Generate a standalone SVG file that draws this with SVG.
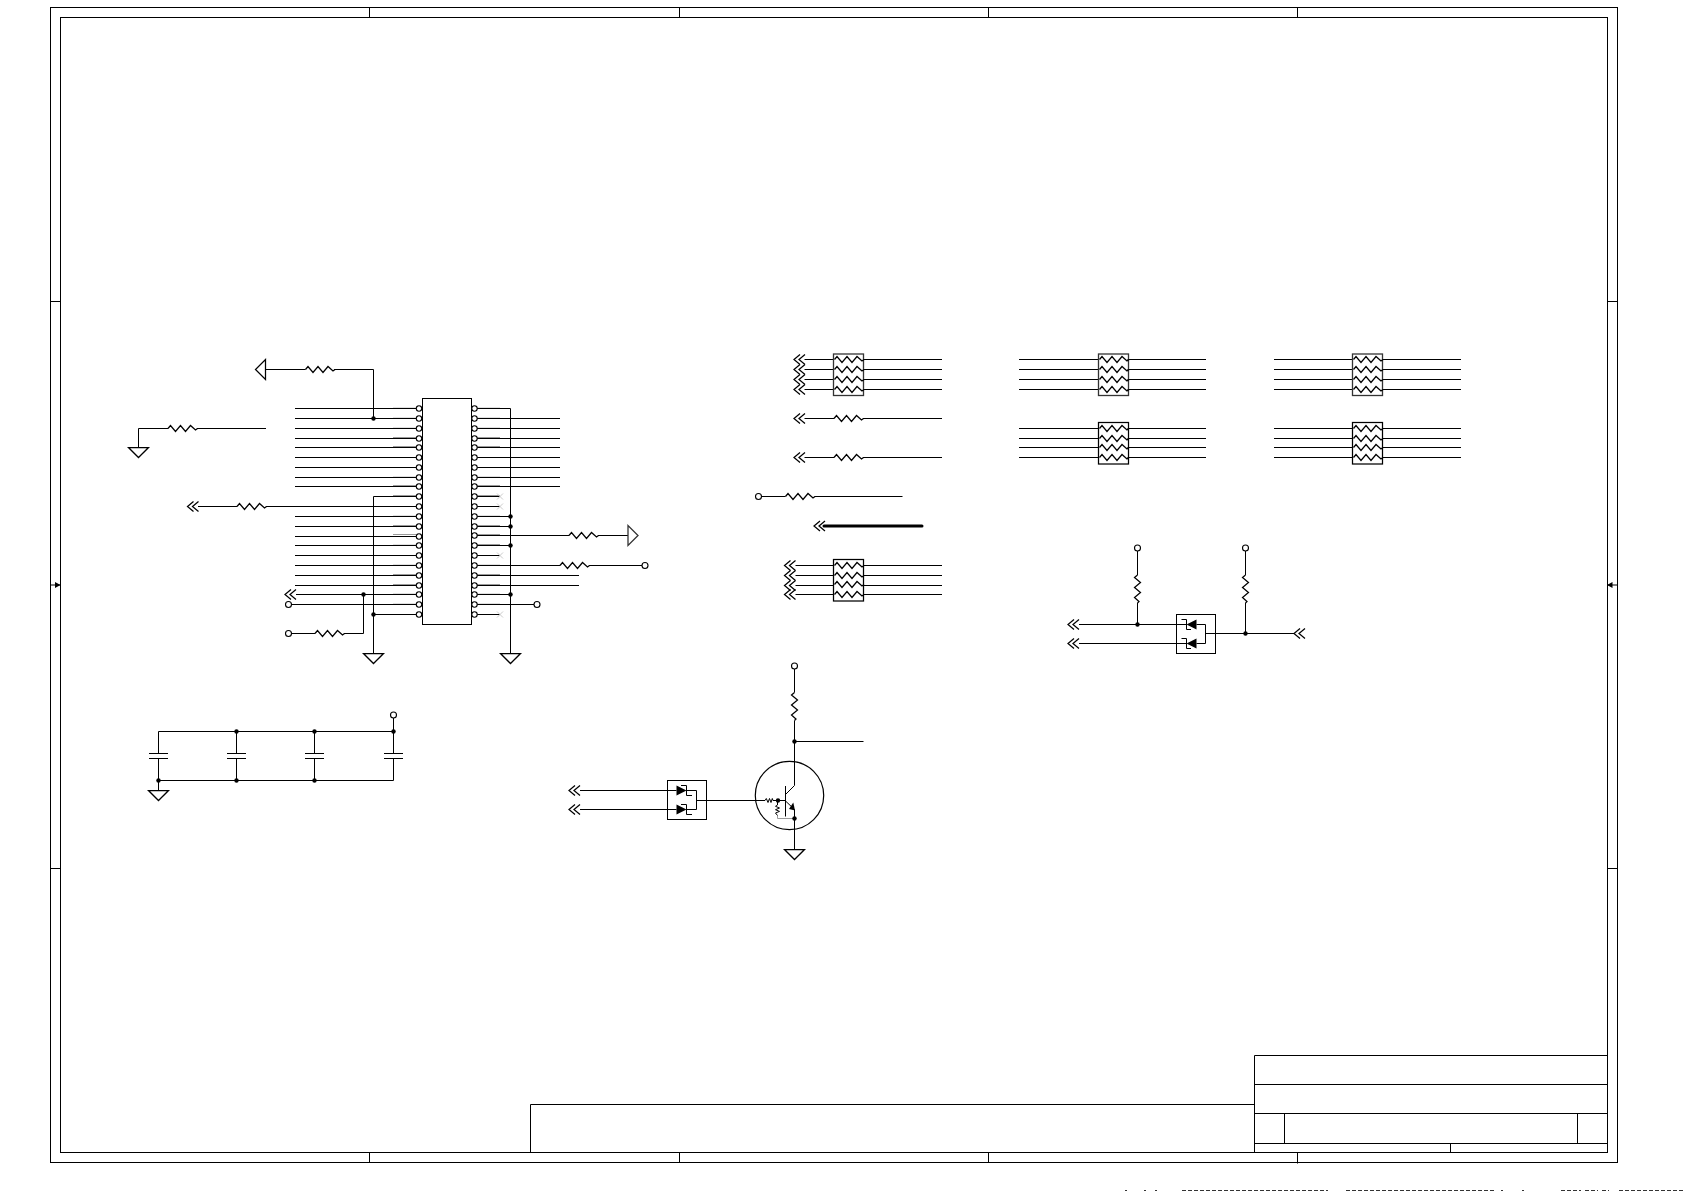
<svg xmlns="http://www.w3.org/2000/svg" width="1685" height="1191" viewBox="0 0 1685 1191">
<style>
.w{fill:none;stroke:#000;stroke-width:1}
.z{fill:none;stroke:#000;stroke-width:1.25}
.t{fill:none;stroke:#000;stroke-width:3;stroke-linecap:round}
.b{fill:#fff;stroke:#000;stroke-width:1}
.g{fill:none;stroke:#333;stroke-width:1.3}
.sd{fill:none;stroke:#9a9a9a;stroke-width:1}
.sl{fill:none;stroke:#e0e0e0;stroke-width:1}
.x{fill:none;stroke:#ccc;stroke-width:1}
.d{fill:#000;stroke:none}
.o{fill:#fff;stroke:#000;stroke-width:1.1}
</style>
<defs>
<path id="res" class="z" d="M0 0L2.5 -3L7.5 3L12.5 -3L17.5 3L22.5 -3L27.5 1.5L29.5 0"/>
<path id="vres" class="z" d="M0 0L-3 2.5L3 7.5L-3 12.5L3 17.5L-3 22.5L1.5 26.5L0 28"/>
<path id="chev" class="z" d="M6 -5L0 0L6 5M11 -5L5 0L11 5"/>
<path id="gnd" class="z" d="M-10 0H10L0 10Z"/>
<circle id="dot" class="d" r="2.2"/>
<circle id="term" class="o" r="3"/>
<circle id="pin" class="o" r="2.7"/>
<path id="xm" class="x" d="M-3 -3L3 3M-3 3L3 -3"/>
<g id="rn4a">
<rect class="g" x="0" y="0" width="30" height="41.5"/>
<use href="#res" x="1" y="5.5"/><use href="#res" x="1" y="15.5"/><use href="#res" x="1" y="25.5"/><use href="#res" x="1" y="35.5"/>
</g>
<g id="rn4b">
<rect class="z" x="0" y="0" width="30" height="41.5"/>
<use href="#res" x="1" y="6"/><use href="#res" x="1" y="16"/><use href="#res" x="1" y="25"/><use href="#res" x="1" y="35"/>
</g>
</defs>
<rect width="1685" height="1191" fill="#fff"/>

<g id="frame">
<rect class="w" x="50.5" y="7.5" width="1567" height="1155"/>
<rect class="w" x="60.5" y="17.5" width="1547" height="1135"/>
<path class="w" d="M369.5 7.5V17.5M679.5 7.5V17.5M988.5 7.5V17.5M1297.5 7.5V17.5M369.5 1152.5V1162.5M679.5 1152.5V1162.5M988.5 1152.5V1162.5M1297.5 1152.5V1163.5"/>
<path class="w" d="M50.5 301.5H60.5M50.5 868.5H60.5M1607.5 301.5H1617.5M1607.5 868.5H1617.5"/>
<path class="w" d="M51 585H60M1607 585H1617"/>
<path class="d" d="M55 582L60.5 585L55 588ZM1612.5 582L1607 585L1612.5 588Z"/>
</g>
<g id="title-block">
<path class="w" d="M1254.5 1152.5V1055.5H1607.5M1254.5 1084.5H1607.5M1254.5 1113.5H1607.5M1254.5 1143.5H1607.5M1284.5 1113.5V1143.5M1577.5 1113.5V1143.5M1450.5 1143.5V1152.5M530.5 1152.5V1104.5H1254.5"/>
</g>
<path id="page-edge" d="M1125 1190.5h2M1144 1190.5h2M1155 1190.5h2M1182 1190.5H1264M1266 1190.5H1328M1346 1190.5H1495M1501 1190.5h2M1522 1190.5h2M1561 1190.5H1581M1585 1190.5H1598M1602 1190.5H1609M1619 1190.5H1685" fill="none" stroke="#333" stroke-width="1" stroke-dasharray="4 2"/>

<g id="connectors">
<path class="w" d="M295 408.5H416M295 418.5H416M295 428.5H416M295 438.5H416M295 447.5H416M295 457.5H416M295 467.5H416M295 477.5H416M295 486.5H416M373.5 496.5H416M266 506.5H416M295 516.5H416M295 526.5H416M295 536.5H416M295 545.5H416M295 555.5H416M295 565.5H416M295 575.5H416M295 585.5H416M296 594.5H416M291 604.5H416M373.5 614.5H416"/>
<path class="w" d="M334 369.5H373.5V418.5M265.5 369.5H305.5"/>
<path class="w" d="M138.5 447.5V428.5H168M197 428.5H266"/>
<path class="w" d="M198 506.5H237"/>
<path class="w" d="M373.5 496.5V653.5"/>
<path class="w" d="M363.5 594.5V633.5H344M315 633.5H291.5"/>
<path class="w" d="M477 408.5H510.5V653.5"/>
<path class="w" d="M477 418.5H560M477 428.5H560M477 438.5H560M477 447.5H560M477 457.5H560M477 467.5H560M477 477.5H560M477 486.5H560"/>
<path class="w" d="M477 496.5H500M477 506.5H500M477 555.5H500M477 614.5H500"/>
<path class="w" d="M477 516.5H510.5M477 526.5H510.5M477 545.5H510.5M477 594.5H510.5"/>
<path class="w" d="M477 535.5H569M598 535.5H628"/>
<path class="w" d="M477 565.5H560M589 565.5H642"/>
<path class="w" d="M477 575.5H579M477 585.5H579"/>
<path class="w" d="M477 604.5H534"/>
<path class="sl" d="M393 407.5H416M393 417.5H416M393 427.5H416M393 476.5H416M393 515.5H416M393 544.5H416M393 564.5H416M393 593.5H416M393 603.5H416M477 407.5H500M477 417.5H500M477 427.5H500M477 476.5H500M477 515.5H500M477 564.5H500M477 593.5H500M477 603.5H500"/>
<path class="sd" d="M393 437.5H416M393 446.5H416M393 485.5H416M393 495.5H416M393 525.5H416M393 534.5H416M393 574.5H416M393 584.5H416M477 437.5H500M477 446.5H500M477 485.5H500M477 495.5H500M477 525.5H500M477 534.5H500M477 544.5H500M477 574.5H500M477 584.5H500"/>
<path class="w" d="M158.5 753.5V731.5H393.5V753.5M158.5 758.5V790.5M236.5 731.5V753.5M236.5 758.5V780.5M314.5 731.5V753.5M314.5 758.5V780.5M393.5 758.5V780.5H158.5M393.5 718V731.5"/>
<path class="w" d="M804.5 359.5H833.5M804.5 369.5H833.5M804.5 379.5H833.5M804.5 389.5H833.5M863.5 359.5H942M863.5 369.5H942M863.5 379.5H942M863.5 389.5H942"/>
<path class="w" d="M804.5 418.5H834M863 418.5H942M804.5 457.5H834M863 457.5H942"/>
<path class="w" d="M761 496.5H785.5M814.5 496.5H902.5"/>
<path class="t" d="M824 526H922"/>
<path class="w" d="M795.5 565.5H833.5M795.5 575.5H833.5M795.5 585.5H833.5M795.5 594.5H833.5M863.5 565.5H942M863.5 575.5H942M863.5 585.5H942M863.5 594.5H942"/>
<path class="w" d="M1019 359.5H1098.5M1019 369.5H1098.5M1019 379.5H1098.5M1019 389.5H1098.5M1127.5 359.5H1206M1127.5 369.5H1206M1127.5 379.5H1206M1127.5 389.5H1206"/>
<path class="w" d="M1019 428.5H1098.5M1019 438.5H1098.5M1019 447.5H1098.5M1019 457.5H1098.5M1127.5 428.5H1206M1127.5 438.5H1206M1127.5 447.5H1206M1127.5 457.5H1206"/>
<path class="w" d="M1274 359.5H1352.5M1274 369.5H1352.5M1274 379.5H1352.5M1274 389.5H1352.5M1382 359.5H1461M1382 369.5H1461M1382 379.5H1461M1382 389.5H1461"/>
<path class="w" d="M1274 428.5H1352.5M1274 438.5H1352.5M1274 447.5H1352.5M1274 457.5H1352.5M1382 428.5H1461M1382 438.5H1461M1382 447.5H1461M1382 457.5H1461"/>
<path class="w" d="M1137.5 551V575M1137.5 603V624.5M1245.5 551V575M1245.5 603V633.5"/>
<path class="w" d="M1079 624.5H1186.5M1079 643.5H1186.5"/>
<path class="w" d="M1196.5 624.5H1205.5V643.5H1196.5M1205.5 633.5H1294"/>
<path class="w" d="M580 790.5H676.5M580 809.5H676.5"/>
<path class="w" d="M686.5 790.5H696.5V809.5H686.5M696.5 800.5H765M773 800.5H785"/>
<path class="w" d="M794.5 669V692.5M794.5 720.5V785.5L785 795M794.5 741.5H863.5"/>
<path class="w" d="M785 800.5L794.5 809.5V849.5"/>
<path class="sd" d="M794.5 818.5H777.5V815.5"/>
<path class="w" d="M777.5 800.5V805"/>
</g>

<g id="U1">
<rect class="b" x="422.5" y="398.5" width="49" height="226"/>
<use href="#pin" x="419" y="408.5"/><use href="#pin" x="419" y="418.5"/><use href="#pin" x="419" y="428.5"/><use href="#pin" x="419" y="438.5"/><use href="#pin" x="419" y="447.5"/><use href="#pin" x="419" y="457.5"/><use href="#pin" x="419" y="467.5"/><use href="#pin" x="419" y="477.5"/><use href="#pin" x="419" y="486.5"/><use href="#pin" x="419" y="496.5"/><use href="#pin" x="419" y="506.5"/><use href="#pin" x="419" y="516.5"/><use href="#pin" x="419" y="526.5"/><use href="#pin" x="419" y="536.5"/><use href="#pin" x="419" y="545.5"/><use href="#pin" x="419" y="555.5"/><use href="#pin" x="419" y="565.5"/><use href="#pin" x="419" y="575.5"/><use href="#pin" x="419" y="585.5"/><use href="#pin" x="419" y="594.5"/><use href="#pin" x="419" y="604.5"/><use href="#pin" x="419" y="614.5"/>
<use href="#pin" x="474.5" y="408.5"/><use href="#pin" x="474.5" y="418.5"/><use href="#pin" x="474.5" y="428.5"/><use href="#pin" x="474.5" y="438.5"/><use href="#pin" x="474.5" y="447.5"/><use href="#pin" x="474.5" y="457.5"/><use href="#pin" x="474.5" y="467.5"/><use href="#pin" x="474.5" y="477.5"/><use href="#pin" x="474.5" y="486.5"/><use href="#pin" x="474.5" y="496.5"/><use href="#pin" x="474.5" y="506.5"/><use href="#pin" x="474.5" y="516.5"/><use href="#pin" x="474.5" y="526.5"/><use href="#pin" x="474.5" y="535.5"/><use href="#pin" x="474.5" y="545.5"/><use href="#pin" x="474.5" y="555.5"/><use href="#pin" x="474.5" y="565.5"/><use href="#pin" x="474.5" y="575.5"/><use href="#pin" x="474.5" y="585.5"/><use href="#pin" x="474.5" y="594.5"/><use href="#pin" x="474.5" y="604.5"/><use href="#pin" x="474.5" y="614.5"/>
<use href="#xm" x="500" y="496.5"/><use href="#xm" x="500" y="506.5"/><use href="#xm" x="500" y="555.5"/><use href="#xm" x="500" y="614.5"/>
</g>

<g id="junctions-chip">
<use href="#dot" x="373.5" y="418.5"/><use href="#dot" x="363.5" y="594.5"/><use href="#dot" x="373.5" y="614.5"/>
<use href="#dot" x="510.5" y="516.5"/><use href="#dot" x="510.5" y="526.5"/><use href="#dot" x="510.5" y="545.5"/><use href="#dot" x="510.5" y="594.5"/>
</g>
<g id="R1"><use href="#res" x="305.5" y="369.5"/></g>
<g id="PWR1"><path class="z" d="M265.5 359.5V379.5L255.5 369.5Z"/></g>
<g id="R2"><use href="#res" x="168" y="428.5"/></g>
<g id="GND1"><use href="#gnd" x="138.5" y="447.5"/></g>
<g id="R3"><use href="#res" x="237" y="506.5"/></g>
<g id="OFF1"><use href="#chev" x="187.5" y="506.5"/></g>
<g id="OFF2"><use href="#chev" x="285" y="594.5"/></g>
<g id="T1"><use href="#term" x="288.5" y="604.5"/></g>
<g id="T2"><use href="#term" x="288.5" y="633.5"/></g>
<g id="R4"><use href="#res" x="315" y="633.5"/></g>
<g id="GND2"><use href="#gnd" x="373.5" y="653.5"/></g>
<g id="GND3"><use href="#gnd" x="510.5" y="653.5"/></g>
<g id="R5"><use href="#res" x="569" y="535.5"/></g>
<g id="PWR2"><path class="g" d="M628 525.5V545.5L638 535.5Z"/></g>
<g id="R6"><use href="#res" x="560" y="565.5"/></g>
<g id="T3"><use href="#term" x="645" y="565.5"/></g>
<g id="T4"><use href="#term" x="537" y="604.5"/></g>

<g id="caps">
<path class="w" d="M149 753.5H168M149 758.5H168M227 753.5H246M227 758.5H246M305 753.5H324M305 758.5H324M384 753.5H403M384 758.5H403"/>
<use href="#dot" x="236.5" y="731.5"/><use href="#dot" x="314.5" y="731.5"/><use href="#dot" x="393.5" y="731.5"/>
<use href="#dot" x="158.5" y="780.5"/><use href="#dot" x="236.5" y="780.5"/><use href="#dot" x="314.5" y="780.5"/>
<use href="#term" x="393.5" y="715"/>
<use href="#gnd" x="158.5" y="790.5"/>
</g>

<g id="RN1"><use href="#rn4a" x="833.5" y="354"/>
<use href="#chev" x="794" y="359.5"/><use href="#chev" x="794" y="369.5"/><use href="#chev" x="794" y="379.5"/><use href="#chev" x="794" y="389.5"/></g>
<g id="R7"><use href="#res" x="834" y="418.5"/><use href="#chev" x="794" y="418.5"/></g>
<g id="R8"><use href="#res" x="834" y="457.5"/><use href="#chev" x="794" y="457.5"/></g>
<g id="R9"><use href="#term" x="758.5" y="496.5"/><use href="#res" x="785.5" y="496.5"/></g>
<g id="OFF3"><use href="#chev" x="814" y="526"/></g>
<g id="RN2"><use href="#rn4b" x="833.5" y="559.5"/>
<use href="#chev" x="784.5" y="565.5"/><use href="#chev" x="784.5" y="575.5"/><use href="#chev" x="784.5" y="585.5"/><use href="#chev" x="784.5" y="594.5"/></g>
<g id="RN3"><use href="#rn4a" x="1098.5" y="354"/></g>
<g id="RN4"><use href="#rn4b" x="1098.5" y="422.5"/></g>
<g id="RN5"><use href="#rn4a" x="1352.5" y="354"/></g>
<g id="RN6"><use href="#rn4b" x="1352.5" y="422.5"/></g>

<g id="D1">
<rect class="w" x="1176.5" y="614.5" width="39" height="39"/>
<path class="d" d="M1186.5 624.5L1196.5 619.5V629.5ZM1186.5 643.5L1196.5 638.5V648.5Z"/>
<path class="w" d="M1181.5 619.5H1186.5V629.5H1191M1181.5 638.5H1186.5V648.5H1191"/>
<use href="#dot" x="1137.5" y="624.5"/><use href="#dot" x="1245.5" y="633.5"/>
<use href="#term" x="1137.5" y="548"/><use href="#term" x="1245.5" y="548"/>
<use href="#vres" x="1137.5" y="575"/><use href="#vres" x="1245.5" y="575"/>
<use href="#chev" x="1068" y="624.5"/><use href="#chev" x="1068" y="643.5"/><use href="#chev" x="1294" y="633.5"/>
</g>

<g id="D2">
<rect class="w" x="667.5" y="780.5" width="39" height="39"/>
<path class="d" d="M686.5 790.5L676.5 785.5V795.5ZM686.5 809.5L676.5 804.5V814.5Z"/>
<path class="w" d="M681 785.5H686.5V795.5H692M681 804.5H686.5V814.5H692"/>
<use href="#chev" x="569" y="790.5"/><use href="#chev" x="569" y="809.5"/>
</g>

<g id="Q1">
<circle cx="789.5" cy="795.5" r="34.2" fill="none" stroke="#000" stroke-width="1.2"/>
<path class="w" d="M785.5 786V816.5"/>
<path class="d" d="M789 809L793.3 802.5L795 810.5Z"/>
<path class="w" d="M765 800.5L766.3 798.5L768 802.5L769.5 798.5L771 802.5L772.3 798.5L773 800.5"/>
<path class="w" d="M777.5 805L775.5 806.3L779.5 808L775.5 809.7L779.5 811.4L775.5 813L777.5 815.5"/>
<use href="#dot" x="778" y="800.5"/><use href="#dot" x="794.5" y="818.5"/><use href="#dot" x="794.5" y="741.5"/>
<use href="#term" x="794.5" y="666"/>
<use href="#vres" x="794.5" y="692.5"/>
<use href="#gnd" x="794.5" y="849.5"/>
</g>
</svg>
